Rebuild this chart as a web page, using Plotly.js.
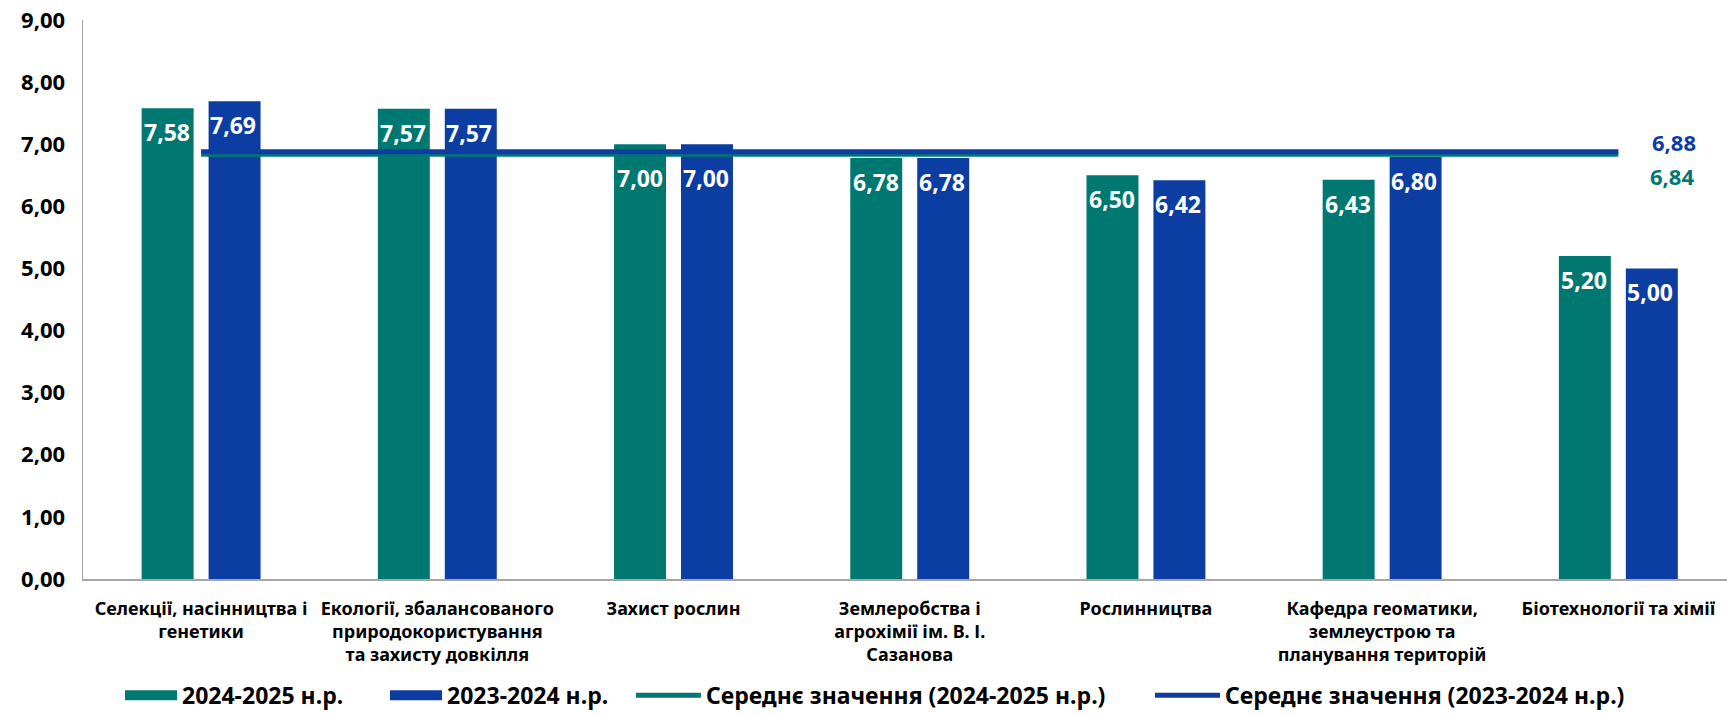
<!DOCTYPE html>
<html>
<head>
<meta charset="utf-8">
<script src="https://cdn.plot.ly/plotly-3.0.1.min.js"></script>
<style>html,body{margin:0;padding:0;background:#fff;}#chart{width:1727px;height:715px;}</style>
</head>
<body>
<div id="chart"></div>
<script>
// ---- data ----
const categories = [
  "Селекції, насінництва і<br>генетики",
  "Екології, збалансованого<br>природокористування<br>та захисту довкілля",
  "Захист рослин",
  "Землеробства і<br>агрохімії ім. В. І.<br>Сазанова",
  "Рослинництва",
  "Кафедра геоматики,<br>землеустрою та<br>планування територій",
  "Біотехнології та хімії"
];
const values2425 = [7.58, 7.57, 7.00, 6.78, 6.50, 6.43, 5.20];
const values2324 = [7.69, 7.57, 7.00, 6.78, 6.42, 6.80, 5.00];
const avg2425 = 6.84;
const avg2324 = 6.88;
const seriesNames = ["2024-2025 н.р.", "2023-2024 н.р.", "Середнє значення (2024-2025 н.р.)", "Середнє значення (2023-2024 н.р.)"];
const yTickVals = [0,1,2,3,4,5,6,7,8,9];

// ---- style ----
const TEAL = "#007872";
const BLUE = "#0c3da2";
const FONT = "Noto Sans, DejaVu Sans, sans-serif";
const fmt = v => v.toFixed(2).replace(".", ",");

const traces = [
  {type:"bar", name:seriesNames[0], x:categories, y:values2425, marker:{color:TEAL}, hoverinfo:"skip", showlegend:false, legendgroup:"a"},
  {type:"bar", name:seriesNames[1], x:categories, y:values2324, marker:{color:BLUE}, hoverinfo:"skip", showlegend:false, legendgroup:"b"},
  // legend swatches for the bar series (wide rectangles as in the original legend)
  {type:"scatter", mode:"lines", name:seriesNames[0], x:[null], y:[null], line:{color:TEAL, width:10}, legendgroup:"a", legend:"legend", hoverinfo:"skip"},
  {type:"scatter", mode:"lines", name:seriesNames[1], x:[null], y:[null], line:{color:BLUE, width:10}, legendgroup:"b", legend:"legend2", hoverinfo:"skip"},
  {type:"scatter", mode:"lines", name:seriesNames[2], x:[categories[0], categories[categories.length-1]], y:[avg2425, avg2425],
   line:{color:TEAL, width:5}, legend:"legend3", hoverinfo:"skip"},
  {type:"scatter", mode:"lines", name:seriesNames[3], x:[categories[0], categories[categories.length-1]], y:[avg2324, avg2324],
   line:{color:BLUE, width:5}, legend:"legend4", hoverinfo:"skip"}
];

const pxPerUnit = 559/9;
const annotations = [];
function labelDrop(v){
  const avgs=[avg2425, avg2324];
  for (const a of avgs){ if (v>=a && (v-a)*pxPerUnit < 20) return -34; }
  return -24;
}
const LBL = {family:FONT, size:23, color:"#fff", weight:"bold"};
categories.forEach((c,i)=>{
  annotations.push({x:c, y:values2425[i], xref:"x", yref:"y", text:fmt(values2425[i]), showarrow:false,
    xshift:-34, yshift:labelDrop(values2425[i]), yanchor:"middle", font:LBL});
  annotations.push({x:c, y:values2324[i], xref:"x", yref:"y", text:fmt(values2324[i]), showarrow:false,
    xshift:32, yshift:labelDrop(values2324[i]), yanchor:"middle", font:LBL});
});
const lastCat = categories[categories.length-1];
annotations.push({x:lastCat, y:avg2324, xref:"x", yref:"y", text:fmt(avg2324), showarrow:false,
  xshift:56, yshift:10, font:{family:FONT, size:22, color:BLUE, weight:"bold"}});
annotations.push({x:lastCat, y:avg2425, xref:"x", yref:"y", text:fmt(avg2425), showarrow:false,
  xshift:54, yshift:-22, font:{family:FONT, size:22, color:TEAL, weight:"bold"}});

const legFont = {family:FONT, size:23, color:"#000", weight:"bold"};
const legBase = {orientation:"h", y:-0.208, yanchor:"middle", xanchor:"left", font:legFont, bgcolor:"rgba(0,0,0,0)"};

const layout = {
  width:1727, height:715,
  margin:{l:83, r:0, t:20, b:136, autoexpand:false},
  paper_bgcolor:"#fff", plot_bgcolor:"#fff",
  separators:", ",
  barmode:"group", bargap:0.433, bargroupgap:0.224,
  font:{family:FONT, color:"#000"},
  showlegend:true,
  legend: Object.assign({}, legBase, {x:0.0225, itemwidth:52}),
  legend2: Object.assign({}, legBase, {x:0.1837, itemwidth:52}),
  legend3: Object.assign({}, legBase, {x:0.3333, itemwidth:65}),
  legend4: Object.assign({}, legBase, {x:0.6490, itemwidth:65}),
  xaxis:{type:"category", range:[-0.5, 6.46], showgrid:false, zeroline:false, showline:true, linecolor:"#a6a6a6", linewidth:2,
    ticks:"", tickfont:{family:FONT, size:18, color:"#000", weight:"bold"}, ticklabelstandoff:12, fixedrange:true},
  yaxis:{range:[0,9], tickvals:yTickVals, tickformat:".2f", showgrid:false, zeroline:false, showline:true, linecolor:"#a6a6a6", linewidth:1.5,
    ticks:"", tickfont:{family:FONT, size:22, color:"#000", weight:"bold"}, ticklabelstandoff:12, fixedrange:true},
  annotations:annotations
};
Plotly.newPlot("chart", traces, layout, {displayModeBar:false, staticPlot:true});
</script>
</body>
</html>
